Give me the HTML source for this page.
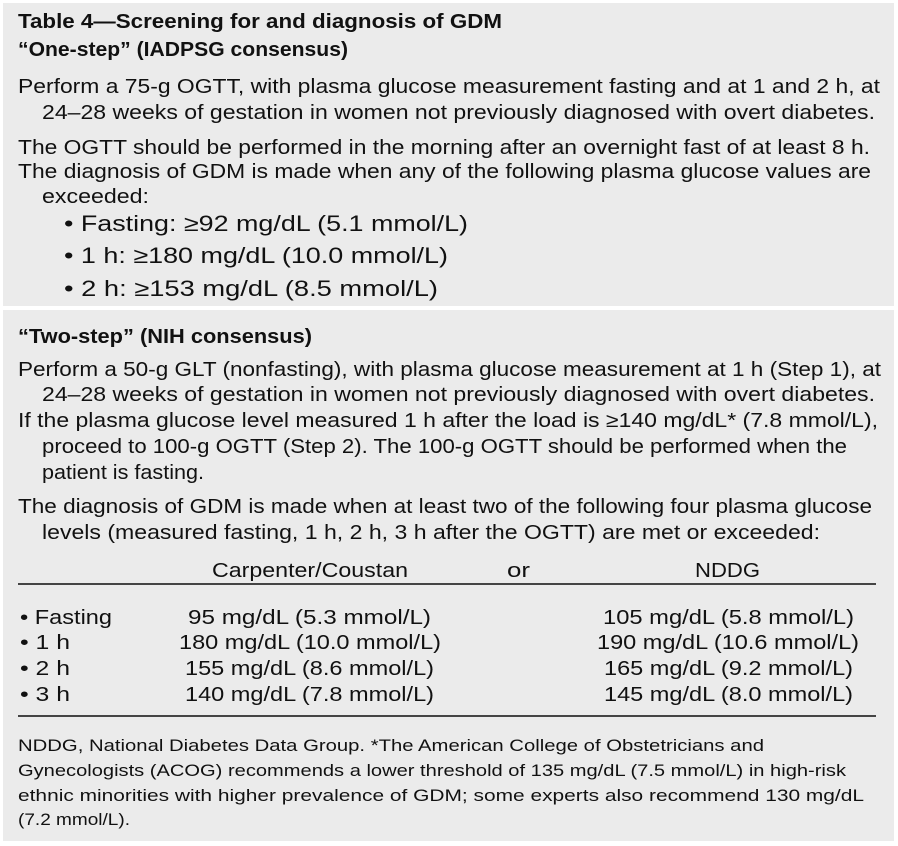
<!DOCTYPE html>
<html><head><meta charset="utf-8"><style>
body{margin:0;width:898px;height:846px;background:#fff;position:relative;overflow:hidden;font-family:"Liberation Sans",sans-serif;color:#111}
.box{position:absolute;left:3px;width:891px;background:#ebebeb}
.l{position:absolute;white-space:nowrap;font-size:20px;line-height:24px;transform-origin:0 50%}
.b{font-weight:bold}
.rule{position:absolute;left:18px;width:858px;height:2px;background:#444}
.f{font-size:17px}
</style></head><body>
<div class="box" style="top:3px;height:303px"></div>
<div class="box" style="top:310px;height:531px"></div>

<div class="l b" data-w="484" style="left:18px;top:10px">Table 4—Screening for and diagnosis of GDM</div>
<div class="l b" data-w="330" style="left:18px;top:38px">“One-step” (IADPSG consensus)</div>
<div class="l" data-w="862" style="left:18px;top:75px">Perform a 75-g OGTT, with plasma glucose measurement fasting and at 1 and 2 h, at</div>
<div class="l" data-w="833" style="left:42px;top:101px">24–28 weeks of gestation in women not previously diagnosed with overt diabetes.</div>
<div class="l" data-w="852" style="left:18px;top:136px">The OGTT should be performed in the morning after an overnight fast of at least 8 h.</div>
<div class="l" data-w="853" style="left:18px;top:160px">The diagnosis of GDM is made when any of the following plasma glucose values are</div>
<div class="l" data-w="107" style="left:42px;top:185px">exceeded:</div>
<div class="l" data-w="404" style="left:64px;top:212px;font-size:22px">• Fasting: ≥92 mg/dL (5.1 mmol/L)</div>
<div class="l" data-w="384" style="left:64px;top:244px;font-size:22px">• 1 h: ≥180 mg/dL (10.0 mmol/L)</div>
<div class="l" data-w="374" style="left:64px;top:277px;font-size:22px">• 2 h: ≥153 mg/dL (8.5 mmol/L)</div>

<div class="l b" data-w="294" style="left:18px;top:325px">“Two-step” (NIH consensus)</div>
<div class="l" data-w="863" style="left:18px;top:358px">Perform a 50-g GLT (nonfasting), with plasma glucose measurement at 1 h (Step 1), at</div>
<div class="l" data-w="833" style="left:42px;top:383px">24–28 weeks of gestation in women not previously diagnosed with overt diabetes.</div>
<div class="l" data-w="860" style="left:18px;top:409px">If the plasma glucose level measured 1 h after the load is ≥140 mg/dL* (7.8 mmol/L),</div>
<div class="l" data-w="805" style="left:42px;top:435px">proceed to 100-g OGTT (Step 2). The 100-g OGTT should be performed when the</div>
<div class="l" data-w="162" style="left:42px;top:461px">patient is fasting.</div>
<div class="l" data-w="854" style="left:18px;top:495px">The diagnosis of GDM is made when at least two of the following four plasma glucose</div>
<div class="l" data-w="778" style="left:42px;top:521px">levels (measured fasting, 1 h, 2 h, 3 h after the OGTT) are met or exceeded:</div>

<div class="l" data-w="196" style="left:212px;top:559px">Carpenter/Coustan</div>
<div class="l" data-w="23" style="left:507px;top:559px">or</div>
<div class="l" data-w="65" style="left:695px;top:559px">NDDG</div>
<div class="rule" style="top:583px"></div>

<div class="l" data-w="92" style="left:20px;top:606px">• Fasting</div>
<div class="l" data-w="243" style="left:188px;top:606px">95 mg/dL (5.3 mmol/L)</div>
<div class="l" data-w="251" style="left:603px;top:606px">105 mg/dL (5.8 mmol/L)</div>
<div class="l" data-w="50" style="left:20px;top:631px">• 1 h</div>
<div class="l" data-w="262" style="left:179px;top:631px">180 mg/dL (10.0 mmol/L)</div>
<div class="l" data-w="262" style="left:597px;top:631px">190 mg/dL (10.6 mmol/L)</div>
<div class="l" data-w="50" style="left:20px;top:657px">• 2 h</div>
<div class="l" data-w="249" style="left:185px;top:657px">155 mg/dL (8.6 mmol/L)</div>
<div class="l" data-w="249" style="left:604px;top:657px">165 mg/dL (9.2 mmol/L)</div>
<div class="l" data-w="50" style="left:20px;top:683px">• 3 h</div>
<div class="l" data-w="249" style="left:185px;top:683px">140 mg/dL (7.8 mmol/L)</div>
<div class="l" data-w="249" style="left:604px;top:683px">145 mg/dL (8.0 mmol/L)</div>
<div class="rule" style="top:715px"></div>

<div class="l f" data-w="746" style="left:18px;top:734px">NDDG, National Diabetes Data Group. *The American College of Obstetricians and</div>
<div class="l f" data-w="828" style="left:18px;top:759px">Gynecologists (ACOG) recommends a lower threshold of 135 mg/dL (7.5 mmol/L) in high-risk</div>
<div class="l f" data-w="846" style="left:18px;top:784px">ethnic minorities with higher prevalence of GDM; some experts also recommend 130 mg/dL</div>
<div class="l f" data-w="112" style="left:18px;top:808px">(7.2 mmol/L).</div>
<script>
document.querySelectorAll('[data-w]').forEach(function(e){
  var w=e.getBoundingClientRect().width, t=+e.getAttribute('data-w');
  if(w>0) e.style.transform='scaleX('+(t/w)+')';
});
</script>
</body></html>
